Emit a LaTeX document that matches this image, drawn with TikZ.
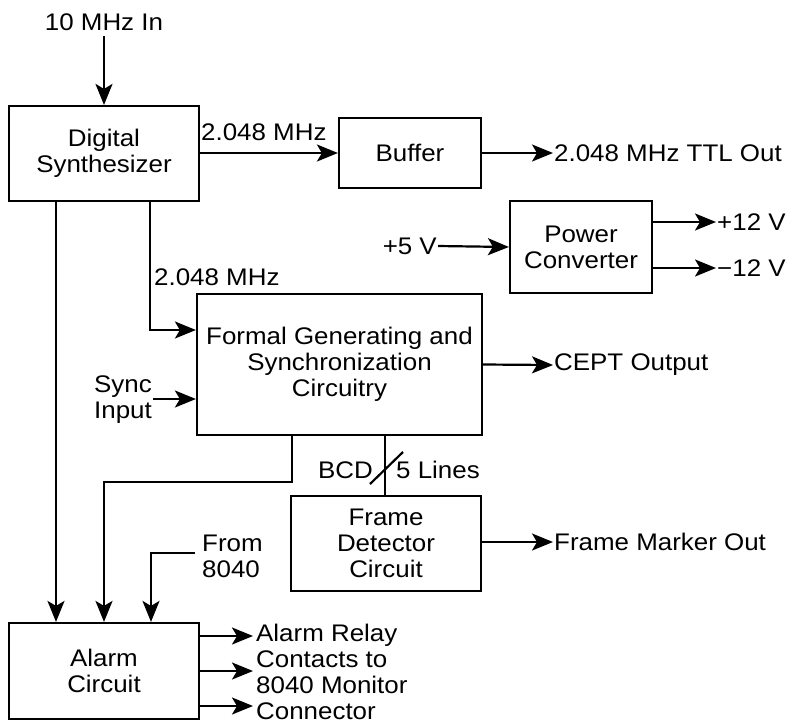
\documentclass[tikz,border=0pt]{standalone}
\usepackage{fontspec}
\setmainfont{Liberation Sans}[FakeStretch=1.08]
\usetikzlibrary{arrows.meta}
\begin{document}
\begin{tikzpicture}[x=1pt,y=-1pt,
  every node/.style={font=\fontsize{24}{26}\selectfont},
  blk/.style={draw, line width=2.2pt, align=center, inner sep=0pt},
  lbl/.style={inner sep=1pt, align=left},
  ln/.style={line width=2.2pt},
  arr/.style={line width=2.2pt, -{Stealth[length=21pt,width=17pt,inset=5pt]}}]
\useasboundingbox (0,0) rectangle (796,724);
% blocks
\node[blk, minimum width=190pt, minimum height=95pt] (dig) at (104,153.5) {Digital\\Synthesizer};
\node[blk, minimum width=142pt, minimum height=70pt] (buf) at (410,153) {Buffer};
\node[blk, minimum width=142pt, minimum height=92pt] (pow) at (581,247) {Power\\Converter};
\node[blk, minimum width=285pt, minimum height=141pt] (fgs) at (339.5,364.5) {Formal Generating and\\Synchronization\\Circuitry};
\node[blk, minimum width=190pt, minimum height=95pt] (frm) at (386,543.5) {Frame\\Detector\\Circuit};
\node[blk, minimum width=190pt, minimum height=96pt] (alm) at (104,671) {Alarm\\Circuit};
% labels
\node[lbl] (in10) at (104,22) {10 MHz In};
\node[lbl, anchor=west] (f1) at (200,132) {2.048 MHz};
\node[lbl, anchor=west] (ttl) at (553,153) {2.048 MHz TTL Out};
\node[lbl, anchor=east] (p5) at (438,246) {+5 V};
\node[lbl, anchor=west] (p12) at (716,222) {+12 V};
\node[lbl, anchor=west] (m12) at (716,268) {\textminus12 V};
\node[lbl, anchor=west] (f2) at (153,277) {2.048 MHz};
\node[lbl, anchor=east] (sync) at (153,400) {Sync\\Input};
\node[lbl, anchor=west] (cept) at (553,365) {CEPT Output};
\node[lbl, anchor=east] (bcd) at (374,470) {BCD};
\node[lbl, anchor=west] (five) at (395,470) {5 Lines};
\node[lbl, anchor=west] (fmo) at (553,542) {Frame Marker Out};
\node[lbl, anchor=west] (from) at (201,556) {From\\8040};
\node[lbl, anchor=west] (relay) at (255,672) {Alarm Relay\\Contacts to\\8040 Monitor\\Connector};
% coordinates
\coordinate (inTop) at (104,36);
\coordinate (fromStart) at (195,553);
\coordinate (o1) at (253,636);
\coordinate (o2) at (253,671);
\coordinate (o3) at (253,706);
% connectors
\draw[arr] (inTop) -- (dig.north);
\draw[arr] (dig.east |- buf.west) -- (buf.west);
\draw[arr] (buf.east) -- (ttl.west);
\draw[arr] (p5.east) -- (pow.west);
\draw[arr] (pow.east |- p12.west) -- (p12.west);
\draw[arr] (pow.east |- m12.west) -- (m12.west);
\draw[arr] (dig.south -| 150,0) |- (fgs.west |- 0,330);
\draw[arr] (sync.east |- 0,399) -- (fgs.west |- 0,399);
\draw[arr] (fgs.east) -- (cept.west);
\draw[arr] (dig.south -| 56,0) -- (alm.north -| 56,0);
\draw[arr] (fgs.south -| 292,0) |- (104,482) -- (alm.north);
\draw[ln] (fgs.south -| 385,0) -- (frm.north -| 385,0);
\draw[ln] (370,484) -- (403,452);
\draw[arr] (frm.east |- fmo.west) -- (fmo.west);
\draw[arr] (fromStart) -| (alm.north -| 151,0);
\draw[arr] (alm.east |- o1) -- (o1);
\draw[arr] (alm.east |- o2) -- (o2);
\draw[arr] (alm.east |- o3) -- (o3);
\end{tikzpicture}
\end{document}
